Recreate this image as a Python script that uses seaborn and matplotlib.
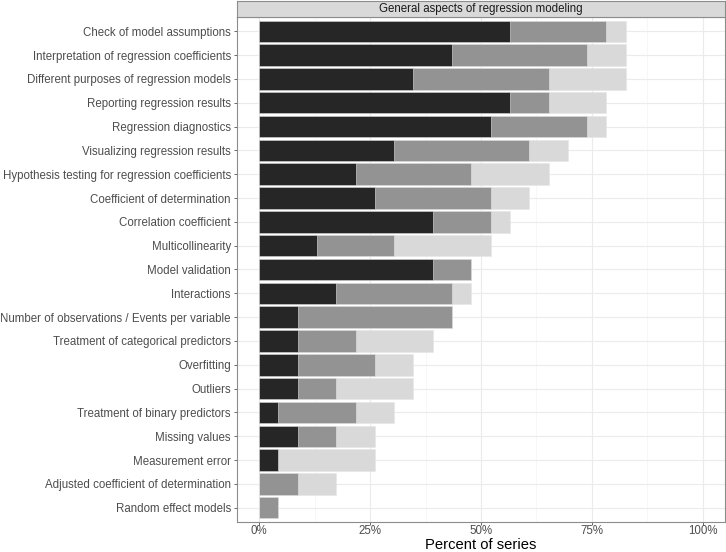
import numpy as np
import pandas as pd
import seaborn as sns
import matplotlib
matplotlib.use('Agg')
import matplotlib.pyplot as plt
from matplotlib.ticker import FixedLocator

# Data: number of series (out of 23) per topic and level
n_series = 23
topics = [
    'Check of model assumptions',
    'Interpretation of regression coefficients',
    'Different purposes of regression models',
    'Reporting regression results',
    'Regression diagnostics',
    'Visualizing regression results',
    'Hypothesis testing for regression coefficients',
    'Coefficient of determination',
    'Correlation coefficient',
    'Multicollinearity',
    'Model validation',
    'Interactions',
    'Number of observations / Events per variable',
    'Treatment of categorical predictors',
    'Overfitting',
    'Outliers',
    'Treatment of binary predictors',
    'Missing values',
    'Measurement error',
    'Adjusted coefficient of determination',
    'Random effect models',
]
level_dark = [13, 10, 8, 13, 12, 7, 5, 6, 9, 3, 9, 4, 2, 2, 2, 2, 1, 2, 1, 0, 0]
level_mid = [5, 7, 7, 2, 5, 7, 6, 6, 3, 4, 2, 6, 8, 3, 4, 2, 4, 2, 0, 2, 1]
level_light = [1, 2, 4, 3, 1, 2, 4, 2, 1, 5, 0, 1, 0, 4, 2, 4, 2, 2, 5, 2, 0]

df = pd.DataFrame({'topic': topics, 'dark': level_dark, 'mid': level_mid, 'light': level_light})
df['cum_dark'] = df['dark'] / n_series * 100
df['cum_mid'] = (df['dark'] + df['mid']) / n_series * 100
df['cum_light'] = (df['dark'] + df['mid'] + df['light']) / n_series * 100

plt.rcParams['font.family'] = ['Liberation Sans', 'DejaVu Sans']

fig = plt.figure(figsize=(7.26, 5.52), dpi=100)
W, H = 726, 552
left, right, top, bottom = 237, 725, 17, 522
ax = fig.add_axes([left / W, 1 - bottom / H, (right - left) / W, (bottom - top) / H])

# stacked bars drawn as overlapping cumulative bars
for col, color in [('cum_light', '#d9d9d9'), ('cum_mid', '#939393'), ('cum_dark', '#262626')]:
    sns.barplot(data=df, x=col, y='topic', order=topics, color=color, width=0.9,
                edgecolor='#e6e6e6', linewidth=0.4, saturation=1, ax=ax, zorder=3)

ax.set_xlim(-5, 105)
ax.set_ylim(len(topics) - 0.4, -0.6)
ax.set_xticks([0, 25, 50, 75, 100])
ax.set_xticklabels(['0%', '25%', '50%', '75%', '100%'])
ax.xaxis.set_minor_locator(FixedLocator([12.5, 37.5, 62.5, 87.5]))
ax.set_facecolor('white')
ax.grid(True, which='major', color='#ebebeb', linewidth=0.8, zorder=0)
ax.grid(True, which='minor', axis='x', color='#f4f4f4', linewidth=0.5, zorder=0)
ax.set_axisbelow(True)
ax.tick_params(axis='both', which='major', labelsize=8.3, labelcolor='#4d4d4d',
               color='#4d4d4d', length=2.5, width=0.6, pad=2)
ax.tick_params(axis='x', which='major', pad=0.2, length=2)
ax.tick_params(axis='x', which='minor', length=0)
ax.set_ylabel('')
ax.set_xlabel('Percent of series', fontsize=10.6, color='black', va='baseline')
ax.xaxis.set_label_coords(0.5, -(549 - bottom) / (bottom - top))
for s in ax.spines.values():
    s.set_color('#8c8c8c')
    s.set_linewidth(0.8)

# facet strip
sax = fig.add_axes([left / W, 1 - top / H, (right - left) / W, 16 / H])
sax.set_facecolor('#d9d9d9')
sax.set_xticks([])
sax.set_yticks([])
for s in sax.spines.values():
    s.set_color('#8c8c8c')
    s.set_linewidth(0.8)
sax.text(0.5, 0.5, 'General aspects of regression modeling', ha='center', va='center',
         fontsize=8.3, color='#1a1a1a', transform=sax.transAxes)

fig.savefig('out.png', dpi=100)
